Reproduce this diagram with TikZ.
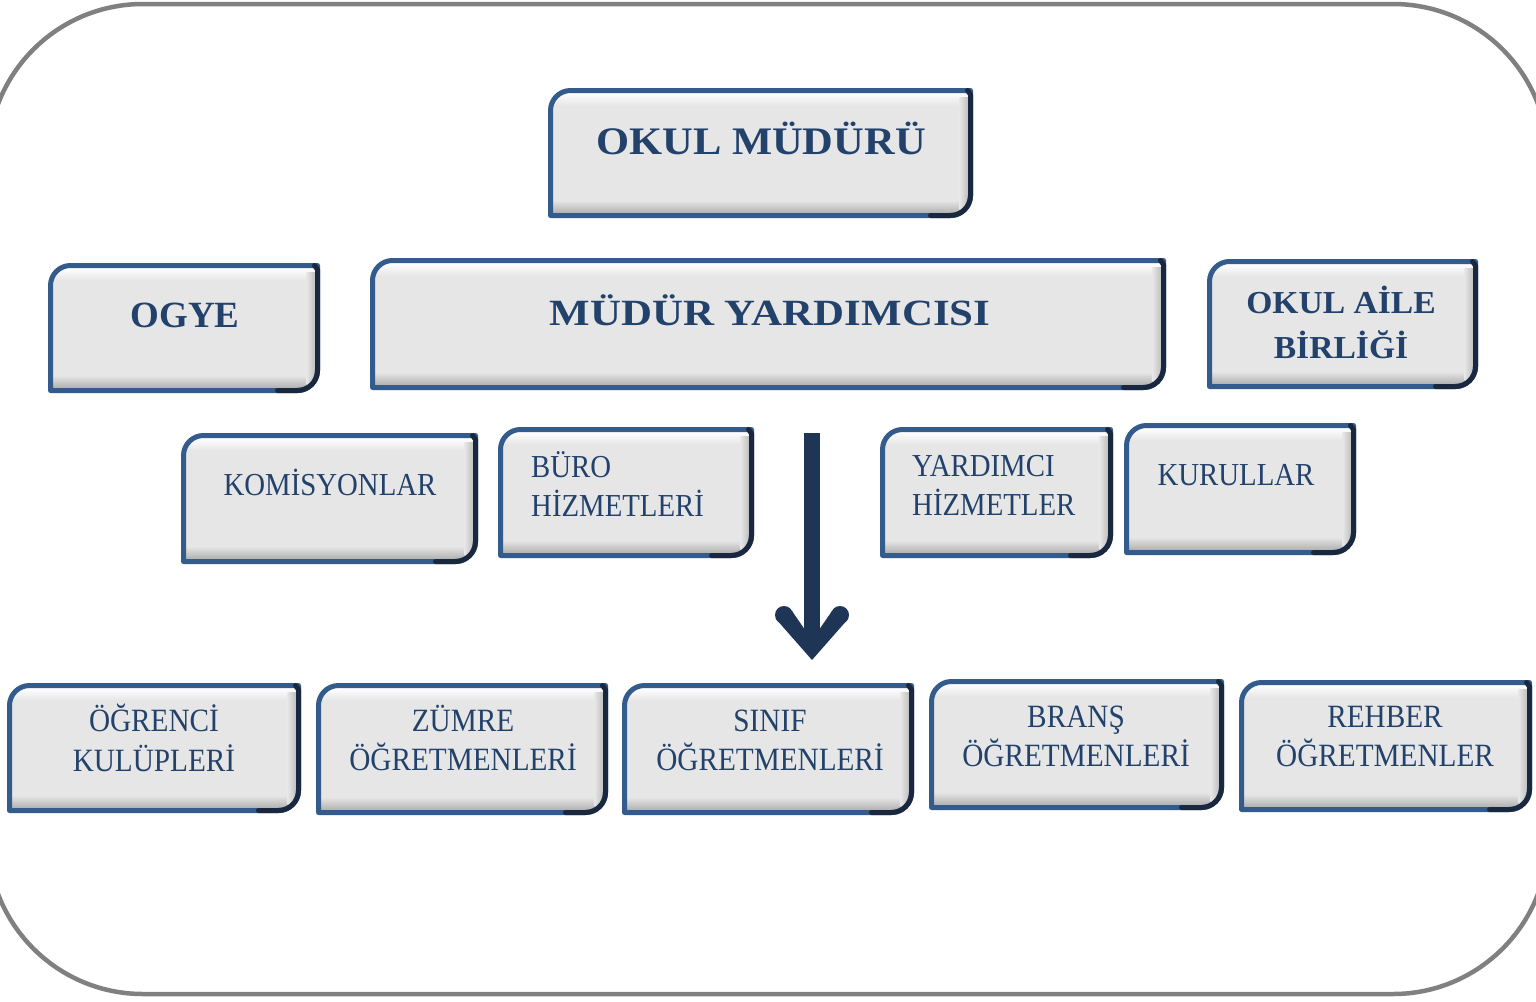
\documentclass[tikz,border=0pt]{standalone}
\usepackage{fontspec}
\usepackage{graphicx}
\setmainfont{Liberation Serif}
\newfontfamily\regfont[FakeStretch=0.9]{Liberation Serif}
\definecolor{framegray}{HTML}{808080}
\definecolor{boxgray}{HTML}{E6E6E6}
\definecolor{boxshade}{HTML}{A6A6A6}
\definecolor{sideshade}{HTML}{B4B4B4}
\definecolor{borderblue}{HTML}{335B8C}
\definecolor{borderdark}{HTML}{19283F}
\definecolor{textblue}{HTML}{22416B}
\definecolor{arrownavy}{HTML}{1E3556}
\pgfdeclareverticalshading{bevelshade}{100bp}{color(0bp)=(boxshade); color(25bp)=(boxshade); color(31bp)=(boxgray); color(69bp)=(boxgray); color(74bp)=(white); color(100bp)=(white)}
\tikzset{
  boxnode/.style={inner sep=0pt, outer sep=0pt},
  boldtxt/.style={inner sep=0pt, text=textblue, anchor=base, font=\bfseries},
  regtxt/.style={inner sep=0pt, text=textblue, anchor=base, font=\regfont\fontsize{32}{38}\selectfont},
  bottxt/.style={inner sep=0pt, text=textblue, anchor=base, font=\regfont\fontsize{32.5}{39}\selectfont},
  boxline/.style={line width=5pt, line join=round}
}
\newcommand\orgbox[5]{%
  \pgfmathsetmacro\ax{#2+2.5}\pgfmathsetmacro\ay{#3+2.5}%
  \pgfmathsetmacro\bx{#4-2.5}\pgfmathsetmacro\by{#5-2.5}%
  \node[boxnode, minimum width={(#4-#2)*1pt}, minimum height={(#5-#3)*1pt}] (#1) at ({(#2+#4)/2},{(#3+#5)/2}) {};
  \path[shading=bevelshade] (\ax,\by) -- (\ax,\ay+20) .. controls (\ax,\ay+9) and (\ax+9,\ay) .. (\ax+20,\ay) -- (\bx,\ay) -- (\bx,\by-20) .. controls (\bx,\by-9) and (\bx-9,\by) .. (\bx-20,\by) -- cycle;
  \begin{scope}
    \clip (\ax,\by) -- (\ax,\ay+20) .. controls (\ax,\ay+9) and (\ax+9,\ay) .. (\ax+20,\ay) -- (\bx,\ay) -- (\bx,\by-20) .. controls (\bx,\by-9) and (\bx-9,\by) .. (\bx-20,\by) -- cycle;
    \shade[left color=boxgray, right color=sideshade] (\bx-11,\ay+7) rectangle (\bx,\by-6);
  \end{scope}
  \draw[boxline, borderblue] (\ax,\by) -- (\ax,\ay+20) .. controls (\ax,\ay+9) and (\ax+9,\ay) .. (\ax+20,\ay) -- (\bx,\ay) -- (\bx,\by-20) .. controls (\bx,\by-9) and (\bx-9,\by) .. (\bx-20,\by) -- cycle;
  \draw[boxline, borderdark, line cap=round] (\bx-3,\ay) -- (\bx,\ay+4) -- (\bx,\by-20) .. controls (\bx,\by-9) and (\bx-9,\by) .. (\bx-20,\by) -- (\bx-40,\by);
}
\begin{document}
\begin{tikzpicture}[x=1pt,y=-1pt]
\useasboundingbox (0,0) rectangle (1536,1001);
\clip (0,0) rectangle (1536,1001);
\fill[white] (0,0) rectangle (1536,1001);
\draw[framegray, line width=4.5pt, rounded corners=155pt] (-12,4) rectangle (1548,994);

% top level
\orgbox{okm}{548}{88}{973}{218}
\node[boldtxt, font=\bfseries\fontsize{39}{47}\selectfont] (okm-t) at (761,154) {\scalebox{1.09}[1]{OKUL MÜDÜRÜ}};

\orgbox{ogye}{48}{263}{320}{393}
\node[boldtxt, font=\bfseries\fontsize{37}{44}\selectfont] (ogye-t) at (185,327) {OGYE};

\orgbox{my}{370}{258}{1166}{390}
\node[boldtxt, font=\bfseries\fontsize{37}{44}\selectfont] (my-t) at (770,325) {\scalebox{1.16}[1]{MÜDÜR YARDIMCISI}};

\orgbox{oab}{1207}{259}{1478}{389}
\node[boldtxt, font=\bfseries\fontsize{32}{40}\selectfont] (oab-t1) at (1341,313) {\scalebox{1.05}[1]{OKUL AİLE}};
\node[boldtxt, font=\bfseries\fontsize{32}{40}\selectfont] (oab-t2) at (1341,358) {\scalebox{1.05}[1]{BİRLİĞİ}};

% middle row
\orgbox{kom}{181}{433}{478}{564}
\node[regtxt] (kom-t) at (330,495) {KOMİSYONLAR};

\orgbox{buro}{498}{427}{754}{558}
\node[regtxt, anchor=base west] (buro-t1) at (531,477) {BÜRO};
\node[regtxt, anchor=base west] (buro-t2) at (531,516) {HİZMETLERİ};

\orgbox{yard}{880}{427}{1113}{558}
\node[regtxt, anchor=base west] (yard-t1) at (912,476) {YARDIMCI};
\node[regtxt, anchor=base west] (yard-t2) at (912,515) {HİZMETLER};

\orgbox{kur}{1124}{423}{1356}{555}
\node[regtxt] (kur-t) at (1236,485) {KURULLAR};

% arrow
\coordinate (arrtop) at (812,433);
\coordinate (arrtip) at (812,660);
\fill[arrownavy] (804,433) rectangle (820,645);
\fill[arrownavy] (776,619) -- (arrtip) -- (848,619) -- (832,611) -- (812,640) -- (792,611) -- cycle;
\fill[arrownavy] (784,615) circle[radius=9pt];
\fill[arrownavy] (840,615) circle[radius=9pt];

% bottom row
\orgbox{ogr}{7}{683}{301}{813}
\node[bottxt] (ogr-t1) at (154,731) {ÖĞRENCİ};
\node[bottxt] (ogr-t2) at (154,771) {KULÜPLERİ};

\orgbox{zum}{316}{683}{608}{815}
\node[bottxt] (zum-t1) at (463,731) {ZÜMRE};
\node[bottxt] (zum-t2) at (463,770) {ÖĞRETMENLERİ};

\orgbox{sin}{622}{683}{914}{815}
\node[bottxt] (sin-t1) at (770,731) {SINIF};
\node[bottxt] (sin-t2) at (770,770) {ÖĞRETMENLERİ};

\orgbox{bra}{929}{679}{1224}{810}
\node[bottxt] (bra-t1) at (1076,727) {BRANŞ};
\node[bottxt] (bra-t2) at (1076,766) {ÖĞRETMENLERİ};

\orgbox{reh}{1239}{680}{1532}{812}
\node[bottxt] (reh-t1) at (1385,727) {REHBER};
\node[bottxt] (reh-t2) at (1385,766) {ÖĞRETMENLER};
\end{tikzpicture}
\end{document}
